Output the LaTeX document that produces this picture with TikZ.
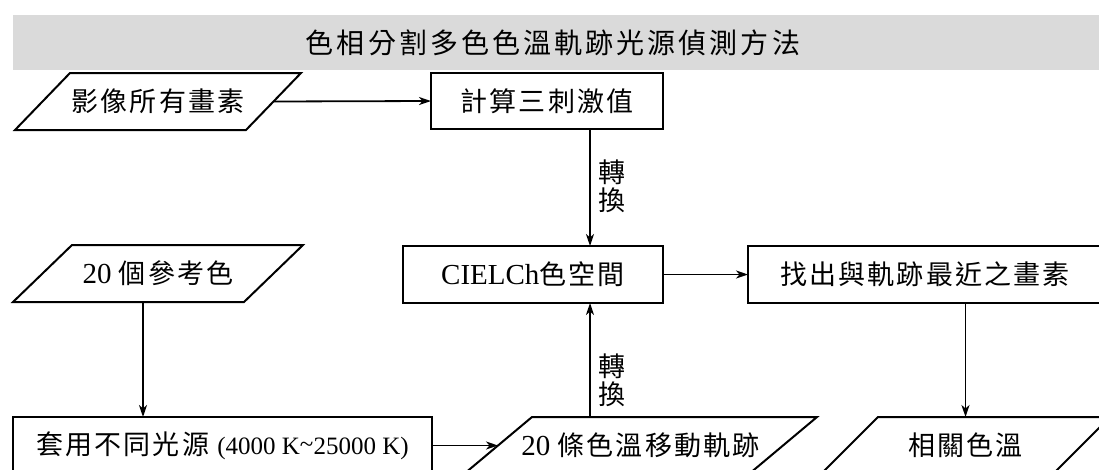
\documentclass[tikz,border=0pt]{standalone}
\usepackage{fontspec}
\setmainfont{Liberation Serif}
\newfontfamily\cjk[LetterSpace=8]{Noto Sans CJK TC}
\newfontfamily\cjkt[LetterSpace=11]{Noto Sans CJK TC}
\usetikzlibrary{arrows.meta,calc}
\definecolor{titlegray}{HTML}{DADADA}
\newcommand\latn{\fontsize{29}{30}\selectfont\rmfamily}
\newcommand\latsm{\fontsize{25}{30}\selectfont\rmfamily}
\newcommand\cjkfont{\fontsize{27}{28}\selectfont\cjk}
\newcommand\paral[2]{\draw[boxline] ($(#1.south west)+(-#2,0)$) -- ($(#1.south east)+(-#2,0)$) -- ($(#1.north east)+(#2,0)$) -- ($(#1.north west)+(#2,0)$) -- cycle;}
\begin{document}
\begin{tikzpicture}[x=1pt,y=-1pt,
  boxline/.style={line width=2pt, line join=miter},
  shp/.style={inner sep=0pt, outer sep=0pt, font=\cjkfont},
  rbox/.style={shp, draw, boxline},
  arr/.style={-{Stealth[length=12pt,width=8pt,inset=3.5pt]}, line width=1.8pt},
  lbl/.style={inner sep=0pt, font=\cjkfont, align=center}
]
\useasboundingbox (0,0) rectangle (1099,469);
\clip (0,0) rectangle (1099,469);

% title band
\node[fill=titlegray, inner sep=0pt, minimum width=1086pt, minimum height=54.5pt] (T) at (556,42.25) {};
\node[inner sep=0pt, font=\fontsize{28}{30}\selectfont\cjkt] (Tt) at (553,43) {色相分割多色色溫軌跡光源偵測方法};

% nodes
\node[shp, minimum width=231pt, minimum height=57pt] (A) at (158,101.5) {影像所有畫素};
\paral{A}{27.5}
\node[rbox, minimum width=232pt, minimum height=56pt] (B) at (547,101) {計算三刺激值};
\node[rbox, minimum width=260pt, minimum height=57pt] (C) at (533,274.5) {{\latn CIELCh}色空間};
\node[rbox, minimum width=354pt, minimum height=57pt] (D) at (925,274.5) {找出與軌跡最近之畫素};
\node[shp, minimum width=231pt, minimum height=57pt] (F) at (158,273.5) {{\latn 20 }個參考色};
\paral{F}{29.5}
\node[rbox, minimum width=419pt, minimum height=57pt] (H) at (222.5,445.5) {套用不同光源 {\latsm (4000 K\raisebox{0.15ex}{\char`\~}25000 K)}};
\node[shp, minimum width=285pt, minimum height=57pt] (E) at (640.5,445.5) {{\latn 20 }條色溫移動軌跡};
\paral{E}{34}
\node[shp, minimum width=232pt, minimum height=57pt] (G) at (965.5,445.5) {相關色溫};
\paral{G}{28.5}

% helper coordinates for vertical connectors
\coordinate (bc) at (590,0);
\coordinate (fh) at (143,0);

% labels
\node[lbl] (L1) at (612,186) {轉\\換};
\node[lbl] (L2) at (612,380) {轉\\換};

% connectors
\draw[arr] (A.east) -- (B.west);
\draw[arr] (B.south -| bc) -- (C.north -| bc);
\draw[arr] (E.north -| bc) -- (C.south -| bc);
\draw[arr] (C.east) -- (D.west);
\draw[arr] (G.north |- D.south) -- (G.north);
\draw[arr] (F.south -| fh) -- (H.north -| fh);
\draw[arr] (H.east) -- (E.west);
\end{tikzpicture}
\end{document}
